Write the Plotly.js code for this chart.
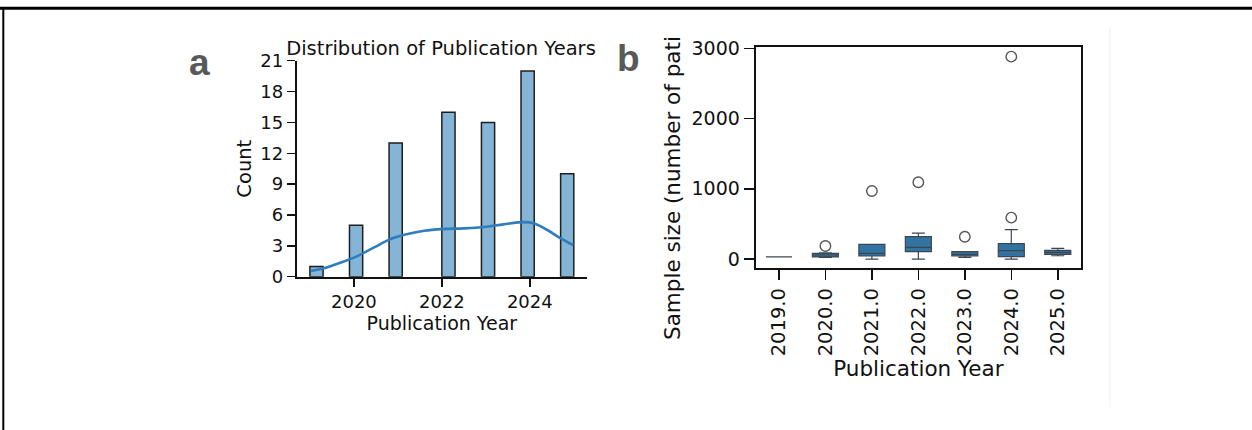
<!DOCTYPE html>
<html>
<head>
<meta charset="utf-8">
<script src="https://cdn.plot.ly/plotly-3.0.1.min.js"></script>
<style>html,body{margin:0;padding:0;background:#fff;}#chart{width:1252px;height:430px;}</style>
</head>
<body>
<div id="chart"></div>
<script>
// ---- Panel a: histogram of publication years ----
var histYears = [2019, 2020, 2021, 2022, 2023, 2024, 2025];
var histCounts = [1, 5, 13, 16, 15, 20, 10];
var histBinStart = 2019, histBinWidth = 0.3, histBinCount = 20;
// KDE curve
var kdeX = [2019.02, 2019.31, 2019.69, 2020.0, 2020.46, 2020.84, 2021.22, 2021.6, 2022.0, 2022.5, 2022.96, 2023.4, 2023.86, 2024.1, 2024.4, 2024.7, 2024.99];
var kdeY = [0.55, 0.81, 1.36, 1.85, 2.85, 3.66, 4.15, 4.47, 4.63, 4.70, 4.83, 5.09, 5.31, 5.18, 4.54, 3.73, 3.08];
var histYTicks = [0, 3, 6, 9, 12, 15, 18, 21];
var histXTicks = [2020, 2022, 2024];

// ---- Panel b: sample size box plot ----
var boxYears = ['2019.0', '2020.0', '2021.0', '2022.0', '2023.0', '2024.0', '2025.0'];
var boxQ1 = [30, 30, 43, 104, 43, 33, 66];
var boxMedian = [30, 57, 81, 166, 66, 119, 95];
var boxQ3 = [30, 81, 209, 318, 104, 218, 123];
var boxLow = [30, 22, 0, 0, 24, 0, 47];
var boxHigh = [30, 88, 209, 370, 104, 418, 152];
var outlierYears = ['2020.0', '2021.0', '2022.0', '2023.0', '2024.0', '2024.0'];
var outlierValues = [185, 968, 1092, 318, 589, 2881];
var boxYTicks = [0, 1000, 2000, 3000];

// bin centres (seaborn-style binning)
var binCenters = histYears.map(function (y) {
  var i = Math.floor((y - histBinStart) / histBinWidth + 1e-9);
  if (i >= histBinCount) i = histBinCount - 1;
  return histBinStart + (i + 0.5) * histBinWidth;
});

var W = 1252, H = 430;
function px(x) { return x / W; }
function py(y) { return (H - y) / H; }

var font = 'DejaVu Sans, sans-serif';

var traces = [
  {
    type: 'bar', x: binCenters, y: histCounts, width: histBinWidth,
    xaxis: 'x', yaxis: 'y',
    marker: { color: 'rgba(31,119,180,0.55)', line: { color: '#1e1e1e', width: 1.5 } },
    hoverinfo: 'x+y', showlegend: false
  },
  {
    type: 'scatter', mode: 'lines', x: kdeX, y: kdeY, xaxis: 'x', yaxis: 'y',
    line: { color: '#2f7dbd', width: 2.6, shape: 'spline', smoothing: 1 },
    showlegend: false
  },
  {
    type: 'box', x: boxYears, q1: boxQ1, median: boxMedian, q3: boxQ3,
    lowerfence: boxLow, upperfence: boxHigh,
    xaxis: 'x2', yaxis: 'y2', boxpoints: false,
    fillcolor: '#3274a1', line: { color: '#3d4650', width: 1.2 },
    whiskerwidth: 0.5, showlegend: false
  },
  {
    type: 'scatter', mode: 'markers', x: outlierYears, y: outlierValues,
    xaxis: 'x2', yaxis: 'y2',
    marker: { symbol: 'circle-open', size: 10.5, color: '#555555', line: { width: 1.4, color: '#555555' } },
    showlegend: false
  }
];

var layout = {
  width: W, height: H,
  margin: { l: 0, r: 0, t: 0, b: 0 },
  paper_bgcolor: '#ffffff', plot_bgcolor: 'rgba(0,0,0,0)',
  font: { family: font, color: '#111111' },
  boxgap: 0.2,
  title: {
    text: 'Distribution of Publication Years',
    font: { family: font, size: 19.5, color: '#111111' },
    x: px(441), xanchor: 'center', xref: 'container',
    y: py(48), yanchor: 'middle', yref: 'container'
  },
  xaxis: {
    domain: [px(296.7), px(587)], anchor: 'y',
    range: [2018.7, 2025.3], tickvals: histXTicks, ticktext: histXTicks.map(String),
    showline: true, linecolor: '#111111', linewidth: 2,
    ticks: 'outside', ticklen: 8, tickwidth: 1.5, tickcolor: '#111111',
    showgrid: false, zeroline: false,
    tickfont: { family: font, size: 18 },
    title: { text: 'Publication Year', font: { family: font, size: 19 }, standoff: 1 }
  },
  yaxis: {
    domain: [py(276.7), py(60.7)], anchor: 'x',
    range: [0, 21], tickvals: histYTicks, ticktext: histYTicks.map(String),
    showline: true, linecolor: '#111111', linewidth: 2,
    ticks: 'outside', ticklen: 8, tickwidth: 1.5, tickcolor: '#111111',
    showgrid: false, zeroline: false,
    tickfont: { family: font, size: 18 },
    title: { text: 'Count', font: { family: font, size: 19.5 }, standoff: 3 }
  },
  xaxis2: {
    domain: [px(755.7), px(1081)], anchor: 'y2', type: 'category',
    categoryorder: 'array', categoryarray: boxYears,
    range: [-0.5, 6.5],
    showline: true, mirror: true, linecolor: '#111111', linewidth: 2,
    ticks: 'outside', ticklen: 10, tickwidth: 1.5, tickcolor: '#111111',
    tickangle: -90,
    showgrid: false, zeroline: false,
    tickfont: { family: font, size: 19.5 },
    title: { text: 'Publication Year', font: { family: font, size: 21.5 }, standoff: 1 }
  },
  yaxis2: {
    domain: [py(268.3), py(47.3)], anchor: 'x2',
    range: [-132, 3014], tickvals: boxYTicks, ticktext: boxYTicks.map(String),
    showline: true, mirror: true, linecolor: '#111111', linewidth: 2,
    ticks: 'outside', ticklen: 10, tickwidth: 1.5, tickcolor: '#111111',
    showgrid: false, zeroline: false,
    tickfont: { family: font, size: 19 }
  },
  annotations: [
    { text: '<b>a</b>', xref: 'paper', yref: 'paper', x: px(199), y: py(62), xanchor: 'center', yanchor: 'middle',
      showarrow: false, font: { family: 'Liberation Sans, Arial, sans-serif', size: 37, color: '#595959' } },
    { text: '<b>b</b>', xref: 'paper', yref: 'paper', x: px(628.5), y: py(58), xanchor: 'center', yanchor: 'middle',
      showarrow: false, font: { family: 'Liberation Sans, Arial, sans-serif', size: 37, color: '#595959' } },
    { text: 'Sample size (number of pati', xref: 'paper', yref: 'paper', x: px(672), y: py(188),
      xanchor: 'center', yanchor: 'middle', textangle: -90, showarrow: false,
      font: { family: font, size: 21.5, color: '#111111' } }
  ],
  shapes: [
    { type: 'line', xref: 'paper', yref: 'paper', x0: 0, x1: 1, y0: py(8.3), y1: py(8.3), line: { color: '#000000', width: 3 } },
    { type: 'line', xref: 'paper', yref: 'paper', x0: px(3.3), x1: px(3.3), y0: py(7), y1: 0, line: { color: '#000000', width: 2 } },
    { type: 'line', xref: 'paper', yref: 'paper', x0: px(1110), x1: px(1110), y0: py(28), y1: py(407), line: { color: '#efefef', width: 1 } }
  ]
};

Plotly.newPlot('chart', traces, layout, { displayModeBar: false, staticPlot: true });
</script>
</body>
</html>
